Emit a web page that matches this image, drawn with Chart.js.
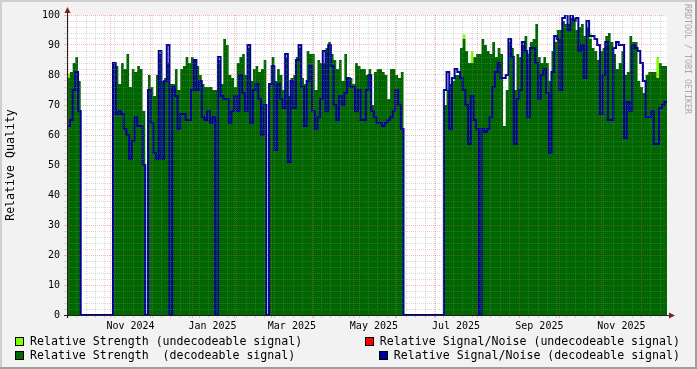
<!DOCTYPE html>
<html>
<head>
<meta charset="utf-8">
<title>Relative Quality</title>
<script src="https://cdn.jsdelivr.net/npm/chart.js@4.4.1/dist/chart.umd.min.js"></script>
<style>
  html, body { margin: 0; padding: 0; background: #f2f2f2; }
  #box { position: relative; width: 697px; height: 369px; overflow: hidden; }
  #chart { position: absolute; left: 0; top: 0; }
  .leg {
    position: absolute; display: flex; align-items: center;
    font: 11.6px "DejaVu Sans Mono", monospace; line-height: 14px;
    white-space: pre; color: #000;
  }
  .sw { width: 7px; height: 7px; border: 1px solid #000; margin-right: 6px; }
  #mark {
    position: absolute; left: 683px; top: 4px; writing-mode: vertical-rl;
    font: 8.3px "DejaVu Sans Mono", monospace; color: #a8a8a8;
  }
</style>
</head>
<body>
<div id="box">
  <canvas id="chart" width="697" height="369"></canvas>
  <div class="leg" style="left:15px; top:334px"><span class="sw" style="background:#80ff00"></span>Relative Strength (undecodeable signal)</div>
  <div class="leg" style="left:15px; top:348px"><span class="sw" style="background:#006600"></span>Relative Strength  (decodeable signal)</div>
  <div class="leg" style="right:17px; top:334px"><span class="sw" style="background:#ff0000"></span>Relative Signal/Noise (undecodeable signal)</div>
  <div class="leg" style="right:17px; top:348px"><span class="sw" style="background:#000099"></span>Relative Signal/Noise (decodeable signal)</div>
  <div id="mark">RRDTOOL / TOBI OETIKER</div>
</div>
<script>
/* Data: one sample every 2 days, first one on Mon 30 Sep 2024 (day -1) */
const startDay = -1;
const stepDays = 2;

// Relative Strength (decodeable signal)
const strength = [
  79, 81, 84, 86, 78,
  0, 0, 0, 0, 0, 0, 0, 0, 0, 0, 0, 0,
  84, 83, 77, 84, 82, 87, 76, 82, 81, 83, 82, 68,
  0,
  80, 76, 73, 80, 87, 78, 79, 84,
  77, 77, 82, 75, 82, 83, 86, 84, 86, 85,
  83, 80, 77, 76, 76, 76, 75, 75, 85, 77,
  92, 90, 80, 79, 76, 84, 86, 87, 80, 89,
  78, 82, 83, 81, 82, 85,
  0,
  77, 86, 78, 82, 80, 75, 86, 73, 79, 80,
  86, 89, 79, 77, 88, 87, 87, 75, 85, 84,
  84, 89, 91, 87, 85, 82, 85, 78, 87, 79,
  79, 77, 84, 83, 82, 82, 80, 82, 70, 81,
  82, 82, 81, 80, 72, 82, 82, 80, 79, 81,
  0, 0, 0, 0, 0, 0, 0, 0, 0, 0, 0, 0, 0, 0, 0,
  70, 75, 77, 78, 80, 80, 89, 92, 88, 84,
  84, 86, 87, 87, 92, 90, 88, 87, 91, 86,
  89, 87, 63, 75, 91, 89, 75, 87, 86, 90,
  93, 87, 91, 92, 97, 86, 84, 86, 84, 78,
  88, 91, 95, 95, 98, 97, 97, 99, 99, 95,
  96, 97, 93, 96, 92, 89, 88, 85, 88, 89,
  93, 94, 91, 87, 82, 84, 88, 80, 81, 93,
  91, 91, 78, 76, 74, 80, 81, 81, 81, 79,
  84, 83, 83
];

// Relative Signal/Noise (decodeable signal)
const snr = [
  63, 65, 75, 81, 68,
  0, 0, 0, 0, 0, 0, 0, 0, 0, 0, 0, 0,
  84, 67, 68, 67, 62, 60, 52, 58, 66, 63, 63, 50,
  0,
  75, 64, 54, 52, 88, 52, 78, 90,
  0, 76, 73, 62, 67, 67, 65, 65, 75, 85,
  75, 78, 66, 65, 68, 64, 66, 0, 86, 73,
  72, 72, 64, 68, 73, 68, 80, 74, 68, 90,
  64, 75, 77, 72, 60, 70,
  0,
  77, 83, 55, 77, 72, 69, 87, 51, 78, 69,
  85, 90, 76, 63, 78, 83, 68, 62, 66, 72,
  88, 68, 90, 83, 70, 65, 73, 70, 74, 79,
  76, 76, 68, 75, 65, 65, 75, 80, 68, 66,
  64, 64, 63, 64, 65, 66, 68, 75, 70, 62,
  0, 0, 0, 0, 0, 0, 0, 0, 0, 0, 0, 0, 0, 0, 0,
  75, 81, 62, 79, 82, 81, 79, 75, 70, 57,
  73, 65, 62, 0, 62, 61, 62, 66, 76, 81,
  84, 79, 79, 80, 92, 86, 57, 72, 75, 91,
  88, 66, 89, 89, 84, 72, 80, 82, 74, 54,
  81, 93, 92, 75, 99, 100, 95, 100, 98, 99,
  88, 90, 79, 98, 93, 93, 92, 90, 67, 80,
  91, 65, 65, 89, 91, 90, 90, 59, 71, 68,
  90, 89, 88, 84, 78, 66, 66, 68, 57, 57,
  69, 70, 71
];

// Relative Strength (undecodeable signal): only a few samples, [day, value]
const weakStrength = [[-1, 80.5], [293, 93.5], [299, 88], [387, 94], [437, 86]];

const yTicks = [0, 10, 20, 30, 40, 50, 60, 70, 80, 90, 100];
const monthNames = ["Jan", "Feb", "Mar", "Apr", "May", "Jun", "Jul", "Aug", "Sep", "Oct", "Nov", "Dec"];
const labelMonths = [[2024, 11], [2025, 1], [2025, 3], [2025, 5], [2025, 7], [2025, 9], [2025, 11]];

/* Axis helpers (days from 1 Oct 2024) */
const day0 = Date.UTC(2024, 9, 1);
const dayOf = (y, m, d) => (Date.UTC(y, m - 1, d) - day0) / 86400000;
const xMin = -1.2, xMax = 444.9;

const monthLines = [];
for (let i = 0; i < 16; i++) {
  const v = dayOf(2024, 10 + i, 1);
  if (v <= xMax) monthLines.push(v);
}
const weekLines = [];
for (let v = -1; v <= xMax; v += 7) {
  if (!monthLines.includes(v)) weekLines.push(v);
}
// rrdtool centres a month label in its month
const labelPos = labelMonths.map(([y, m]) => dayOf(y, m, 1) + 15);
const labelText = labelMonths.map(([y, m]) => monthNames[m - 1] + " " + y);

const GRID = "rgba(143,143,143,0.32)";
const MGRID = "rgba(222,79,79,0.38)";
const FONT = "DejaVu Sans Mono";

/* Build stepped series: each value holds until the next sample */
const xs = strength.map((_, i) => startDay + i * stepDays);
function toPoints(arr) {
  const pts = arr.map((v, i) => ({ x: xs[i], y: v }));
  pts.push({ x: xs[xs.length - 1] + stepDays, y: arr[arr.length - 1] });
  return pts;
}
const weakFull = xs.map(x => {
  const hit = weakStrength.find(p => p[0] === x);
  return hit ? hit[1] : 0;
});

/* Background, frame and axes like rrdtool */
const rrdFrame = {
  id: "rrdFrame",
  beforeDraw(chart) {
    const { ctx, chartArea: a, width, height } = chart;
    ctx.save();
    ctx.fillStyle = "#f2f2f2";
    ctx.fillRect(0, 0, width, height);
    ctx.fillStyle = "#cfcfcf";
    ctx.fillRect(0, 0, width, 2);
    ctx.fillRect(0, 0, 2, height);
    ctx.fillStyle = "#9e9e9e";
    ctx.fillRect(0, height - 2, width, 2);
    ctx.fillRect(width - 2, 0, 2, height);
    ctx.fillStyle = "#ffffff";
    ctx.fillRect(a.left, a.top, a.right - a.left, a.bottom - a.top);
    ctx.restore();
  },
  afterDraw(chart) {
    const { ctx, chartArea: a } = chart;
    ctx.save();
    ctx.strokeStyle = "#1f1f1f";
    ctx.lineWidth = 1;
    ctx.beginPath();
    ctx.moveTo(a.left - 3, a.bottom + 0.5);
    ctx.lineTo(a.right + 3, a.bottom + 0.5);
    ctx.moveTo(a.left + 0.5, a.bottom + 3);
    ctx.lineTo(a.left + 0.5, a.top - 3);
    ctx.stroke();
    ctx.fillStyle = "#801f1f";
    ctx.beginPath();
    ctx.moveTo(a.right + 2, a.bottom - 2.5);
    ctx.lineTo(a.right + 8, a.bottom + 0.5);
    ctx.lineTo(a.right + 2, a.bottom + 3.5);
    ctx.closePath();
    ctx.fill();
    ctx.beginPath();
    ctx.moveTo(a.left - 2.5, a.top - 2);
    ctx.lineTo(a.left + 0.5, a.top - 8);
    ctx.lineTo(a.left + 3.5, a.top - 2);
    ctx.closePath();
    ctx.fill();
    ctx.restore();
  }
};

new Chart(document.getElementById("chart"), {
  type: "line",
  data: {
    datasets: [
      {
        label: "Relative Signal/Noise (decodeable signal)",
        data: toPoints(snr),
        borderColor: "#000099",
        borderWidth: 2,
        stepped: "before",
        pointRadius: 0,
        fill: false
      },
      {
        label: "Relative Strength  (decodeable signal)",
        data: toPoints(strength),
        borderWidth: 0,
        backgroundColor: "#006600",
        stepped: "before",
        pointRadius: 0,
        fill: "origin"
      },
      {
        label: "Relative Strength (undecodeable signal)",
        data: toPoints(weakFull),
        borderWidth: 0,
        backgroundColor: "#80ff00",
        stepped: "before",
        pointRadius: 0,
        fill: "origin"
      }
    ]
  },
  options: {
    responsive: false,
    animation: false,
    devicePixelRatio: 1,
    events: [],
    layout: { padding: { left: 0, right: 30, top: 15, bottom: 0 } },
    plugins: { legend: { display: false }, tooltip: { enabled: false } },
    scales: {
      x: {
        type: "linear",
        min: xMin,
        max: xMax,
        afterFit: s => { s.height = 54; },
        afterBuildTicks: s => {
          s.ticks = [...weekLines, ...monthLines, ...labelPos].sort((a, b) => a - b).map(v => ({ value: v }));
        },
        border: { display: false, dash: [1, 1] },
        grid: {
          z: 1,
          lineWidth: 1,
          tickLength: 3,
          color: c => !c.tick ? GRID : monthLines.includes(c.tick.value) ? MGRID : weekLines.includes(c.tick.value) ? GRID : "transparent",
          tickColor: c => !c.tick ? GRID : monthLines.includes(c.tick.value) ? MGRID : weekLines.includes(c.tick.value) ? GRID : "transparent"
        },
        ticks: {
          autoSkip: false,
          maxRotation: 0,
          minRotation: 0,
          padding: 2,
          color: "#000",
          font: { family: FONT, size: 10 },
          callback: v => {
            const i = labelPos.indexOf(v);
            return i >= 0 ? labelText[i] : "";
          }
        }
      },
      y: {
        min: 0,
        max: 100,
        afterFit: s => { s.width = 67; },
        border: { display: false, dash: [1, 1] },
        grid: {
          z: 1,
          lineWidth: 1,
          tickLength: 3,
          color: c => c.tick && yTicks.includes(c.tick.value) ? MGRID : GRID,
          tickColor: c => c.tick && yTicks.includes(c.tick.value) ? MGRID : GRID
        },
        ticks: {
          stepSize: 2,
          autoSkip: false,
          padding: 4,
          color: "#000",
          font: { family: FONT, size: 10 },
          callback: v => yTicks.includes(v) ? String(v) : ""
        },
        title: {
          display: true,
          text: "Relative Quality",
          color: "#000",
          font: { family: FONT, size: 11.6 },
          padding: { top: 4, bottom: 0 }
        }
      }
    }
  },
  plugins: [rrdFrame]
});
</script>
</body>
</html>
